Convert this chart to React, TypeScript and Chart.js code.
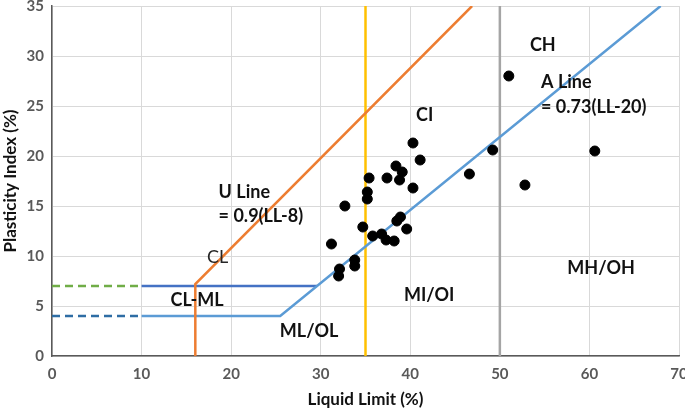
import React, { useEffect, useRef } from "react";
import { Chart, registerables } from "chart.js";

Chart.register(...registerables);

// Soil samples: liquid limit (%) and plasticity index (%)
const sampleLL = [40.3, 41.1, 38.4, 39.1, 35.4, 37.4, 38.8, 40.3, 35.2, 35.2, 32.7, 38.9, 38.5, 34.7, 39.6, 35.8, 36.8, 37.3, 38.2, 31.2, 32.1, 32.0, 33.8, 33.8, 51.0, 49.2, 46.6, 52.8, 60.6];
const samplePI = [21.3, 19.6, 19.0, 18.4, 17.8, 17.8, 17.6, 16.8, 16.4, 15.7, 15.0, 13.9, 13.5, 12.9, 12.7, 12.0, 12.2, 11.6, 11.5, 11.2, 8.7, 8.0, 9.6, 9.0, 28.0, 20.6, 18.2, 17.1, 20.5];

// Reference lines (x = LL, y = PI)
const uLineX = [16, 16, 46.9];
const uLineY = [0, 7.2, 35];
const aLineX = [10, 25.48, 67.95];
const aLineY = [4, 4, 35];
const clmlTopX = [10, 29.59];
const clmlTopY = [7, 7];
const dash7X = [0, 10];
const dash7Y = [7, 7];
const dash4X = [0, 10];
const dash4Y = [4, 4];
const ll35X = [35, 35];
const ll35Y = [0, 35];
const ll50X = [50, 50];
const ll50Y = [0, 35];

const xTicks = [0, 10, 20, 30, 40, 50, 60, 70];
const yTicks = [0, 5, 10, 15, 20, 25, 30, 35];

// Zone labels in data coordinates
const zoneText = ["CH", "A Line", "= 0.73(LL-20)", "CI", "U Line", "= 0.9(LL-8)", "CL", "CL-ML", "ML/OL", "MI/OI", "MH/OH"];
const zoneX = [54.8, 54.6, 54.6, 41.6, 18.6, 18.6, 18.5, 16.2, 28.7, 42.1, 61.3];
const zoneY = [31.1, 27.4, 24.9, 24.1, 16.4, 14.0, 9.9, 5.55, 2.45, 6.1, 8.8];

const zip = (xs: number[], ys: number[]) => xs.map((x, i) => ({ x, y: ys[i] }));

export default function App() {
  const ref = useRef<HTMLCanvasElement | null>(null);
  useEffect(() => {
    if (!ref.current) return;
    const FONT = "Lato, 'Open Sans', sans-serif";
    const labelPlugin = {
      id: "zoneLabels",
      afterDatasetsDraw(chart: any) {
        const { ctx, scales } = chart;
        ctx.save();
        ctx.textBaseline = "middle";
        zoneText.forEach((t, i) => {
          const px = scales.x.getPixelForValue(zoneX[i]);
          const py = scales.y.getPixelForValue(zoneY[i]);
          const leftAligned = t === "A Line" || t.startsWith("=") || t === "U Line";
          ctx.textAlign = leftAligned ? "left" : "center";
          ctx.font = (t === "CL" ? "normal " : "bold ") + "18px " + FONT;
          ctx.fillStyle = t === "CL" ? "#262626" : "#111";
          ctx.fillText(t, px, py);
        });
        ctx.restore();
      },
    };
    const line = (xs: number[], ys: number[], color: string, dash: number[] = []) => ({
      type: "line" as const,
      data: zip(xs, ys),
      borderColor: color,
      borderWidth: 2.5,
      borderDash: dash,
      pointRadius: 0,
      showLine: true,
      fill: false,
      tension: 0,
      order: 2,
    });
    const chart = new Chart(ref.current, {
      type: "scatter",
      data: {
        datasets: [
          {
            type: "scatter",
            data: zip(sampleLL, samplePI),
            backgroundColor: "#000",
            borderColor: "#000",
            pointRadius: 5,
            order: 1,
          } as any,
          line(uLineX, uLineY, "#ED7D31"),
          line(aLineX, aLineY, "#5B9BD5"),
          line(clmlTopX, clmlTopY, "#4472C4"),
          line(dash7X, dash7Y, "#70AD47", [8, 5]),
          line(dash4X, dash4Y, "#2E6DA4", [8, 5]),
          line(ll35X, ll35Y, "#FFC000"),
          line(ll50X, ll50Y, "#A5A5A5"),
        ],
      },
      options: {
        animation: false,
        responsive: false,
        maintainAspectRatio: false,
        layout: { padding: { top: 6, right: 0, left: 0, bottom: 0 } },
        plugins: { legend: { display: false }, tooltip: { enabled: false } },
        scales: {
          x: {
            type: "linear",
            min: 0,
            max: 70,
            afterBuildTicks: (s: any) => { s.ticks = xTicks.map((v) => ({ value: v })); },
            afterFit: (s: any) => { s.height = 54; s.paddingLeft = 0; s.paddingRight = 0; },
            grid: { color: "#d9d9d9", drawTicks: false, lineWidth: 1 },
            border: { color: "#595959", width: 1.5 },
            ticks: { color: "#595959", padding: 9, font: { family: FONT, size: 15, weight: "bold" } },
            title: { display: true, text: "Liquid Limit (%)", color: "#111", padding: { top: 4, bottom: 0 }, font: { family: FONT, size: 17, weight: "bold" } },
          },
          y: {
            type: "linear",
            min: 0,
            max: 35,
            afterBuildTicks: (s: any) => { s.ticks = yTicks.map((v) => ({ value: v })); },
            afterFit: (s: any) => { s.width = 52; s.paddingTop = 0; s.paddingBottom = 0; },
            grid: { color: "#d9d9d9", drawTicks: false, lineWidth: 1 },
            border: { color: "#595959", width: 1.5 },
            ticks: { color: "#595959", padding: 8, font: { family: FONT, size: 15, weight: "bold" } },
            title: { display: true, text: "Plasticity Index (%)", color: "#111", padding: { top: 0, bottom: 2 }, font: { family: FONT, size: 17, weight: "bold" } },
          },
        },
      } as any,
      plugins: [labelPlugin],
    });
    return () => chart.destroy();
  }, []);
  return (
    <div style={{ position: "fixed", left: 0, top: 0, width: 685, height: 410, background: "#fff" }}>
      <canvas ref={ref} width={685} height={410} style={{ width: 685, height: 410 }} />
    </div>
  );
}
